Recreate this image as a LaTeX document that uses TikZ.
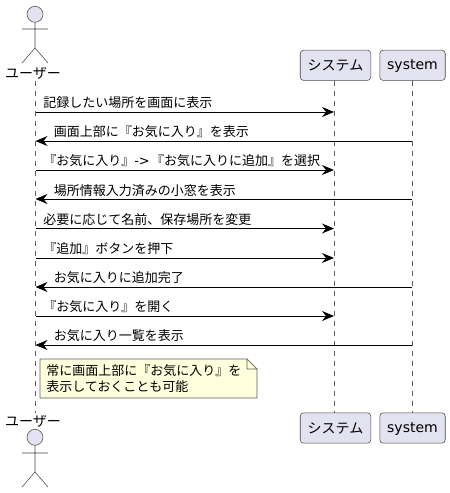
\documentclass[tikz,border=0pt]{standalone}
\usepackage{fontspec}
\setmainfont{Noto Sans CJK JP}
\newfontfamily\latinfont{DejaVu Sans}
\usetikzlibrary{arrows.meta}
\definecolor{boxfill}{HTML}{E2E2F0}
\definecolor{linedark}{HTML}{181818}
\definecolor{notefill}{HTML}{FEFFDD}

\begin{document}
\begin{tikzpicture}[
    x=0.75pt, y=-0.75pt,
    every node/.style={font=\fontsize{9.75pt}{12pt}\selectfont, text=black, inner sep=0pt},
    actorname/.style={font=\fontsize{10.5pt}{12pt}\selectfont},
    lifebox/.style={draw=linedark!80, fill=boxfill, line width=0.4pt, rounded corners=2.5pt, minimum height=22.7pt, font=\fontsize{10.5pt}{12pt}\selectfont},
    lifeline/.style={draw=linedark!70, line width=0.35pt, dash pattern=on 3.75pt off 3.75pt},
    msg/.style={draw=black, line width=0.75pt, -{Stealth[length=9pt, width=7.5pt, inset=3pt]}},
    msgtext/.style={anchor=west},
    actorline/.style={draw=linedark!80, line width=0.4pt},
    actorhead/.style={draw=linedark!80, fill=boxfill, line width=0.4pt},
    notebody/.style={draw=linedark!70, fill=notefill, line width=0.4pt},
]
\useasboundingbox (0,0) rectangle (450,493);

% Pozycje
\node[actorname] (userT) at (33,73) {ユーザー};
\node[actorname] (userB) at (33,421) {ユーザー};
\node[lifebox, minimum width=52.9pt] (sysT) at (335.5,65.3) {システム};
\node[lifebox, minimum width=49.1pt] (engT) at (412.5,65.3) {\raisebox{-3.5pt}[0pt][0pt]{\latinfont system}};
\node[lifebox, minimum width=52.9pt] (sysB) at (335.5,428) {システム};
\node[lifebox, minimum width=49.1pt] (engB) at (412.5,428) {\raisebox{-3.5pt}[0pt][0pt]{\latinfont system}};
\coordinate (uTop) at (35.5,81);
\coordinate (uBot) at (35.5,413);

% Linie zycia
\draw[lifeline] (uTop) -- (uBot);
\draw[lifeline] (334,80.5) -- (334,413);
\draw[lifeline] (412,80.5) -- (412,413);

% Aktor gora
\draw[actorhead] (35,14.3) circle (8);
\draw[actorline] (35,22.3) -- (35,48) (22,29) -- (48,29) (22,63) -- (35,48) -- (48,63);

% Aktor dol
\draw[actorhead] (35,437.3) circle (8);
\draw[actorline] (35,445.3) -- (35,472) (22,453) -- (48,453) (22,487) -- (35,472) -- (48,487);

% Koncowki
\coordinate (u1) at (35.5,112);  \coordinate (s1) at (334,112);
\coordinate (u2) at (35.5,141);  \coordinate (e2) at (412,141);
\coordinate (u3) at (35.5,170);  \coordinate (s3) at (334,170);
\coordinate (u4) at (35.5,199);  \coordinate (e4) at (412,199);
\coordinate (u5) at (35.5,228.5);  \coordinate (s5) at (334,228.5);
\coordinate (u6) at (35.5,258);  \coordinate (s6) at (334,258);
\coordinate (u7) at (35.5,287);  \coordinate (e7) at (412,287);
\coordinate (u8) at (35.5,316);  \coordinate (s8) at (334,316);
\coordinate (u9) at (35.5,345);  \coordinate (e9) at (412,345);

% Komunikaty
\draw[msg] (u1) -- (s1);
\draw[msg] (e2) -- (u2);
\draw[msg] (u3) -- (s3);
\draw[msg] (e4) -- (u4);
\draw[msg] (u5) -- (s5);
\draw[msg] (u6) -- (s6);
\draw[msg] (e7) -- (u7);
\draw[msg] (u8) -- (s8);
\draw[msg] (e9) -- (u9);

\node[msgtext] (m1) at (43,103) {記録したい場所を画面に表示};
\node[msgtext] (m2) at (53.5,132) {画面上部に『お気に入り』を表示};
\node[msgtext] (m3) at (43,161) {『お気に入り』{\latinfont ->}\hspace{1pt}『お気に入りに追加』を選択};
\node[msgtext] (m4) at (53.5,190.5) {場所情報入力済みの小窓を表示};
\node[msgtext] (m5) at (43,219.5) {必要に応じて名前、保存場所を変更};
\node[msgtext] (m6) at (43,249) {『追加』ボタンを押下};
\node[msgtext] (m7) at (53.5,278) {お気に入りに追加完了};
\node[msgtext] (m8) at (43,307) {『お気に入り』を開く};
\node[msgtext] (m9) at (53.5,336) {お気に入り一覧を表示};

% Notatka
\draw[notebody] (40,359) -- (247,359) -- (257,369) -- (257,398) -- (40,398) -- cycle;
\draw[notebody] (247,359) -- (247,369) -- (257,369) -- cycle;
\node[msgtext] (note1) at (46,371) {常に画面上部に『お気に入り』を};
\node[msgtext] (note2) at (46,387) {表示しておくことも可能};

\end{tikzpicture}
\end{document}
